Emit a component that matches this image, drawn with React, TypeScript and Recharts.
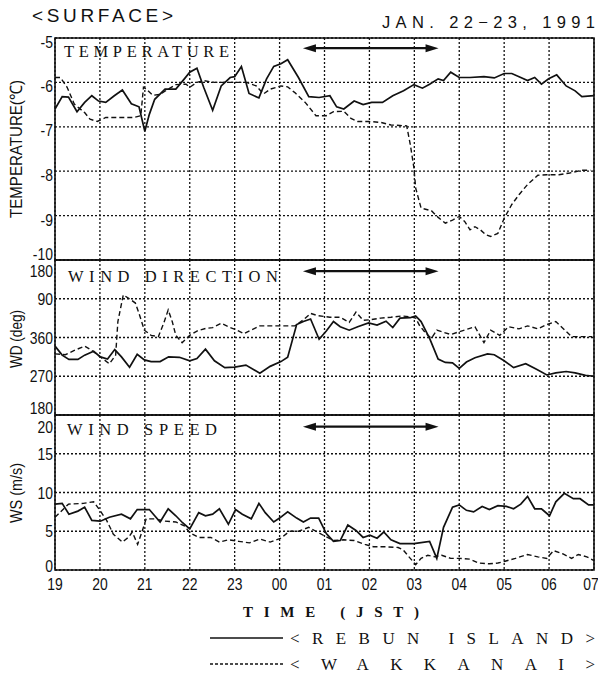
import {
  LineChart,
  Line,
  XAxis,
  YAxis,
  CartesianGrid,
  ReferenceArea,
  ReferenceLine,
} from 'recharts';

// hours after 19:00 JST, 22 Jan 1991
const hourLabels = ['19', '20', '21', '22', '23', '00', '01', '02', '03', '04', '05', '06', '07'];

const rebunTempT = [0, 0.16, 0.3, 0.49, 0.66, 0.82, 0.97, 1.13, 1.32, 1.5, 1.7, 1.87, 2.0, 2.1, 2.22, 2.45, 2.69, 2.88, 3.0, 3.16, 3.31, 3.51, 3.7, 3.9, 4.0, 4.15, 4.32, 4.54, 4.71, 4.87, 5.03, 5.18, 5.42, 5.65, 5.88, 6.12, 6.27, 6.43, 6.66, 6.86, 7.05, 7.29, 7.52, 7.76, 7.99, 8.18, 8.34, 8.53, 8.65, 8.81, 9.0, 9.24, 9.55, 9.78, 10.0, 10.17, 10.37, 10.52, 10.68, 10.83, 10.99, 11.17, 11.38, 11.58, 11.73, 12];
const rebunTemp = [-6.6, -6.32, -6.33, -6.66, -6.45, -6.3, -6.42, -6.45, -6.3, -6.17, -6.48, -6.55, -7.1, -6.72, -6.38, -6.15, -6.15, -5.92, -5.77, -5.68, -6.11, -6.63, -6.08, -5.89, -5.87, -5.64, -6.25, -6.35, -5.92, -5.64, -5.58, -5.49, -5.89, -6.32, -6.34, -6.3, -6.55, -6.6, -6.42, -6.5, -6.45, -6.45, -6.3, -6.19, -6.05, -6.13, -6.04, -5.92, -5.96, -5.77, -5.89, -5.89, -5.87, -5.9, -5.8, -5.8, -5.89, -5.96, -5.89, -6.04, -5.92, -5.83, -6.08, -6.19, -6.32, -6.3];

const wakkTempT = [0, 0.12, 0.27, 0.43, 0.66, 0.78, 0.94, 1.13, 1.44, 1.75, 1.91, 1.97, 2.03, 2.18, 2.34, 2.49, 2.69, 2.92, 3.0, 3.16, 3.31, 3.55, 3.79, 4.26, 4.48, 4.64, 4.8, 5.03, 5.18, 5.34, 5.57, 5.81, 6.04, 6.2, 6.43, 6.59, 6.74, 6.98, 7.25, 7.48, 7.68, 7.83, 7.91, 7.99, 8.03, 8.15, 8.38, 8.53, 8.69, 8.85, 9.0, 9.12, 9.24, 9.35, 9.47, 9.59, 9.7, 9.86, 10.0, 10.17, 10.33, 10.52, 10.75, 10.95, 11.22, 11.46, 11.73, 11.92];
const wakkTemp = [-5.89, -5.89, -6.11, -6.49, -6.68, -6.83, -6.88, -6.79, -6.79, -6.79, -6.75, -6.11, -6.15, -6.29, -6.27, -6.17, -6.05, -6.04, -6.11, -6.0, -5.96, -6.0, -6.0, -6.0, -6.08, -6.26, -6.15, -6.08, -6.1, -6.23, -6.45, -6.75, -6.75, -6.66, -6.65, -6.81, -6.88, -6.88, -6.9, -6.96, -6.97, -6.98, -7.4, -7.92, -8.38, -8.83, -8.89, -9.04, -9.17, -9.1, -9.02, -9.13, -9.32, -9.25, -9.32, -9.43, -9.47, -9.4, -9.06, -8.75, -8.53, -8.3, -8.09, -8.08, -8.08, -8.04, -7.98, -7.98];

// wind direction, unwrapped: 450 = 90 deg, 540 = 180 deg
const rebunWdT = [0, 0.16, 0.31, 0.51, 0.66, 0.86, 1.01, 1.17, 1.33, 1.48, 1.66, 1.83, 1.99, 2.14, 2.34, 2.53, 2.77, 3.0, 3.16, 3.35, 3.55, 3.78, 4.0, 4.25, 4.56, 4.79, 5.03, 5.18, 5.38, 5.53, 5.69, 5.88, 6.04, 6.2, 6.35, 6.55, 6.74, 6.98, 7.17, 7.37, 7.52, 7.68, 7.91, 8.03, 8.15, 8.34, 8.53, 8.69, 8.85, 9.0, 9.16, 9.35, 9.63, 9.78, 10.0, 10.21, 10.48, 10.72, 10.95, 11.15, 11.38, 11.58, 11.81, 12];
const rebunWd = [340, 319, 309, 309, 319, 328, 315, 310, 332, 315, 291, 321, 308, 304, 304, 315, 314, 306, 311, 333, 306, 290, 291, 296, 277, 293, 304, 314, 390, 397, 403, 356, 375, 397, 385, 377, 385, 394, 389, 398, 383, 405, 406, 410, 397, 358, 310, 302, 301, 288, 303, 313, 322, 320, 306, 290, 299, 286, 273, 278, 281, 278, 272, 270];

const wakkWdT = [0, 0.23, 0.43, 0.66, 0.82, 1.01, 1.21, 1.35, 1.4, 1.52, 1.64, 1.79, 1.87, 1.99, 2.14, 2.3, 2.42, 2.52, 2.61, 2.69, 2.83, 3.0, 3.16, 3.35, 3.51, 3.7, 3.9, 4.05, 4.21, 4.36, 4.56, 5.34, 5.53, 5.69, 5.84, 6.12, 6.35, 6.55, 6.7, 6.86, 7.01, 7.25, 7.48, 7.72, 7.91, 8.03, 8.11, 8.26, 8.38, 8.5, 8.65, 8.81, 8.96, 9.2, 9.35, 9.55, 9.7, 9.9, 10.1, 10.33, 10.52, 10.75, 10.95, 11.15, 11.34, 11.5, 11.96];
const wakkWd = [322, 320, 330, 340, 330, 315, 299, 319, 397, 459, 451, 440, 416, 377, 365, 362, 393, 424, 397, 365, 348, 365, 375, 381, 383, 393, 383, 377, 369, 377, 387, 387, 401, 416, 411, 407, 407, 395, 419, 400, 401, 405, 407, 410, 408, 405, 389, 369, 358, 377, 372, 367, 372, 380, 385, 348, 377, 365, 385, 380, 387, 380, 390, 397, 378, 362, 362];

const rebunWsT = [0, 0.16, 0.31, 0.51, 0.66, 0.82, 1.01, 1.21, 1.48, 1.68, 1.83, 2.1, 2.34, 2.52, 2.69, 2.84, 3.0, 3.2, 3.35, 3.51, 3.66, 3.86, 4.02, 4.17, 4.37, 4.54, 4.68, 4.87, 5.0, 5.18, 5.38, 5.53, 5.69, 5.87, 6.04, 6.2, 6.35, 6.52, 6.7, 6.86, 7.01, 7.17, 7.32, 7.48, 7.68, 7.99, 8.34, 8.5, 8.65, 8.85, 9.0, 9.16, 9.32, 9.51, 9.67, 9.86, 10.05, 10.21, 10.37, 10.52, 10.68, 10.83, 11.01, 11.15, 11.34, 11.54, 11.69, 11.88, 12];
const rebunWs = [8.5, 8.6, 7.2, 7.6, 8.1, 6.4, 6.3, 6.8, 7.2, 6.6, 7.8, 7.8, 6.2, 7.9, 7.0, 6.1, 5.3, 7.4, 7.0, 7.2, 7.9, 5.9, 7.8, 7.2, 6.6, 8.6, 7.4, 6.2, 6.7, 7.5, 6.7, 6.2, 6.7, 6.7, 4.7, 3.7, 3.8, 5.8, 5.1, 4.2, 4.5, 4.1, 4.9, 3.9, 3.4, 3.4, 3.7, 1.5, 5.5, 8.1, 8.4, 7.7, 7.5, 8.2, 7.8, 8.3, 8.2, 7.9, 8.5, 9.5, 7.9, 7.9, 7.0, 8.8, 9.9, 9.2, 9.2, 8.4, 8.4];

const wakkWsT = [0, 0.3, 0.63, 0.86, 1.0, 1.15, 1.3, 1.5, 1.65, 1.72, 1.84, 1.94, 2.03, 2.22, 2.45, 2.69, 2.88, 3.0, 3.2, 3.47, 3.66, 3.86, 4.09, 4.33, 4.56, 4.79, 5.03, 5.22, 5.42, 5.65, 5.81, 6.0, 6.2, 6.43, 6.66, 6.9, 7.09, 7.36, 7.64, 7.75, 7.91, 8.03, 8.15, 8.3, 8.46, 8.61, 8.81, 9.0, 9.24, 9.43, 9.67, 9.86, 10.0, 10.25, 10.52, 10.75, 10.95, 11.1, 11.3, 11.5, 11.65, 11.84, 12];
const wakkWs = [6.8, 8.5, 8.6, 8.8, 7.7, 6.4, 4.6, 3.6, 4.3, 4.9, 3.3, 5.0, 6.6, 6.6, 6.3, 6.2, 5.7, 4.8, 4.2, 4.2, 3.6, 3.9, 3.7, 3.5, 4.0, 3.6, 4.1, 5.0, 5.0, 5.5, 5.0, 4.4, 3.8, 3.9, 3.8, 3.3, 3.0, 3.0, 2.9, 2.6, 1.5, 0.7, 1.5, 1.9, 1.7, 1.9, 1.5, 1.5, 1.4, 0.9, 0.8, 0.9, 1.1, 1.5, 2.0, 1.7, 1.5, 2.5, 2.1, 1.5, 2.0, 1.7, 1.2];

const tempTicks = [-10, -9, -8, -7, -6, -5];
const wdTicks = [180, 270, 360, 450, 540];
const wsTicks = [0, 5, 10, 15, 20];

// period marked by the double arrow (hours after 19:00)
const arrowSpan = [5.52, 8.54];

const rows = (t: number[], v: number[]) => t.map((x, i) => ({ t: x, v: v[i] }));
const hourTicks = hourLabels.map((_, i) => i);

const SANS = '"Liberation Sans", Arial, sans-serif';
const SERIF = '"Liberation Serif", "Times New Roman", serif';
const INK = '#111';

// tall, narrow digits like the original typesetting
const yTick = (fmt: (v: number) => string, shifts: Record<number, number>) => (props: any) => {
  const { x, y, payload } = props;
  return (
    <text
      transform={`translate(${x},${y + (shifts[payload.value] ?? 0)}) scale(0.82,1)`}
      textAnchor="end"
      dominantBaseline="central"
      fontFamily={SANS}
      fontSize={17}
      fill={INK}
    >
      {fmt(payload.value)}
    </text>
  );
};

const xTick = (props: any) => {
  const { x, y, payload } = props;
  // last label sits against the page edge
  const dx = payload.value === hourTicks[hourTicks.length - 1] ? -3 : 0;
  return (
    <text
      transform={`translate(${x + dx},${y + 14}) scale(0.82,1)`}
      textAnchor="middle"
      dominantBaseline="central"
      fontFamily={SANS}
      fontSize={17}
      fill={INK}
    >
      {hourLabels[payload.value]}
    </text>
  );
};

const arrowShape = (p: any) => {
  const { x1, y1, x2, y2 } = p;
  return (
    <g>
      <line x1={x1 + 6} y1={y1} x2={x2 - 6} y2={y2} stroke={INK} strokeWidth={2.2} />
      <polygon points={`${x1},${y1} ${x1 + 13},${y1 - 4} ${x1 + 13},${y1 + 4}`} fill={INK} />
      <polygon points={`${x2},${y2} ${x2 - 13},${y2 - 4} ${x2 - 13},${y2 + 4}`} fill={INK} />
    </g>
  );
};

const gridProps = { stroke: INK, strokeDasharray: '2 2', strokeWidth: 1.3 };

function Panel({
  top,
  height,
  margin,
  domain,
  ticks,
  fmt,
  shifts,
  rebun,
  wakk,
  arrowY,
  showX,
}: any) {
  return (
    <div style={{ position: 'absolute', left: 0, top }}>
      <LineChart width={598} height={height} margin={margin}>
        <CartesianGrid {...gridProps} />
        <XAxis
          type="number"
          dataKey="t"
          domain={[0, 12]}
          ticks={hourTicks}
          hide={!showX}
          height={showX ? 30 : 0}
          axisLine={false}
          tickLine={false}
          tickSize={0}
          tickMargin={0}
          tick={xTick}
          interval={0}
        />
        <YAxis
          type="number"
          domain={domain}
          ticks={ticks}
          width={55}
          axisLine={false}
          tickLine={false}
          tickSize={0}
          tickMargin={2}
          tick={yTick(fmt, shifts)}
          interval={0}
          allowDataOverflow
        />
        <ReferenceArea
          x1={0}
          x2={12}
          y1={domain[0]}
          y2={domain[1]}
          fill="none"
          fillOpacity={0}
          stroke={INK}
          strokeWidth={1.6}
          ifOverflow="visible"
        />
        <Line
          data={wakk}
          dataKey="v"
          type="linear"
          stroke={INK}
          strokeWidth={1.4}
          strokeDasharray="5 3"
          dot={false}
          isAnimationActive={false}
        />
        <Line
          data={rebun}
          dataKey="v"
          type="linear"
          stroke={INK}
          strokeWidth={1.7}
          dot={false}
          isAnimationActive={false}
        />
        <ReferenceLine
          segment={[
            { x: arrowSpan[0], y: arrowY },
            { x: arrowSpan[1], y: arrowY },
          ]}
          stroke={INK}
          shape={arrowShape}
          ifOverflow="visible"
        />
      </LineChart>
    </div>
  );
}

export default function App() {
  return (
    <div
      style={{
        position: 'absolute',
        left: 0,
        top: 0,
        width: 598,
        height: 688,
        background: '#fff',
        overflow: 'hidden',
      }}
    >
      <Panel
        top={0}
        height={272}
        margin={{ top: 38, right: 4, bottom: 12, left: 0 }}
        domain={[-10, -5]}
        ticks={tempTicks}
        fmt={(v: number) => String(v)}
        shifts={{ [-5]: 4, [-6]: 4, [-7]: 3, [-8]: 4, [-9]: 4, [-10]: -6 }}
        rebun={rows(rebunTempT, rebunTemp)}
        wakk={rows(wakkTempT, wakkTemp)}
        arrowY={-5.23}
      />
      <Panel
        top={248}
        height={179}
        margin={{ top: 12, right: 4, bottom: 12, left: 0 }}
        domain={[180, 540]}
        ticks={wdTicks}
        fmt={(v: number) => String(v % 360 === 0 ? 360 : v % 360)}
        shifts={{ 540: 11, 180: -7 }}
        rebun={rows(rebunWdT, rebunWd)}
        wakk={rows(wakkWdT, wakkWd)}
        arrowY={514}
      />
      <Panel
        top={403}
        height={212}
        margin={{ top: 12, right: 4, bottom: 15, left: 0 }}
        domain={[0, 20]}
        ticks={wsTicks}
        fmt={(v: number) => String(v)}
        shifts={{ 20: 12, 0: -4 }}
        rebun={rows(rebunWsT, rebunWs)}
        wakk={rows(wakkWsT, wakkWs)}
        arrowY={18.5}
        showX
      />
      <svg
        width={598}
        height={688}
        style={{ position: 'absolute', left: 0, top: 0, pointerEvents: 'none' }}
      >
        <text x={32} y={22} fontFamily={SANS} fontSize={19} textLength={141} lengthAdjust="spacing" fill={INK}>
          {'<SURFACE>'}
        </text>
        <text x={382} y={28} fontFamily={SANS} fontSize={16.5} textLength={213} lengthAdjust="spacing" fill={INK}>
          JAN. 22−23, 1991
        </text>
        <text x={64} y={57} fontFamily={SERIF} fontSize={16.5} textLength={165} lengthAdjust="spacing" fill={INK}>
          TEMPERATURE
        </text>
        <text x={68} y={282} fontFamily={SERIF} fontSize={16.5} textLength={210} lengthAdjust="spacing" fill={INK}>
          WIND DIRECTION
        </text>
        <text x={67} y={435} fontFamily={SERIF} fontSize={16.5} textLength={150} lengthAdjust="spacing" fill={INK}>
          WIND SPEED
        </text>
        <text transform="translate(21.5,149) rotate(-90)" textAnchor="middle" fontFamily={SANS} fontSize={17} textLength={138} lengthAdjust="spacingAndGlyphs" fill={INK}>
          TEMPERATURE(℃)
        </text>
        <text transform="translate(21.5,339) rotate(-90)" textAnchor="middle" fontFamily={SANS} fontSize={16} textLength={58} lengthAdjust="spacingAndGlyphs" fill={INK}>
          WD (deg)
        </text>
        <text transform="translate(21.5,493) rotate(-90)" textAnchor="middle" fontFamily={SANS} fontSize={16} textLength={60} lengthAdjust="spacingAndGlyphs" fill={INK}>
          WS (m/s)
        </text>
        <text x={243} y={617} fontFamily={SERIF} fontWeight="bold" fontSize={15} textLength={176} lengthAdjust="spacing" fill={INK}>
          TIME (JST)
        </text>
        <line x1={210} y1={638} x2={283} y2={638} stroke={INK} strokeWidth={1.6} />
        <text x={290} y={644} fontFamily={SERIF} fontSize={17} textLength={305} lengthAdjust="spacing" fill={INK}>
          {'<REBUN  ISLAND>'}
        </text>
        <line x1={210} y1={664} x2={283} y2={664} stroke={INK} strokeWidth={1.3} strokeDasharray="3 2" />
        <text x={290} y={670} fontFamily={SERIF} fontSize={17} textLength={305} lengthAdjust="spacing" fill={INK}>
          {'<WAKKANAI>'}
        </text>
      </svg>
    </div>
  );
}
